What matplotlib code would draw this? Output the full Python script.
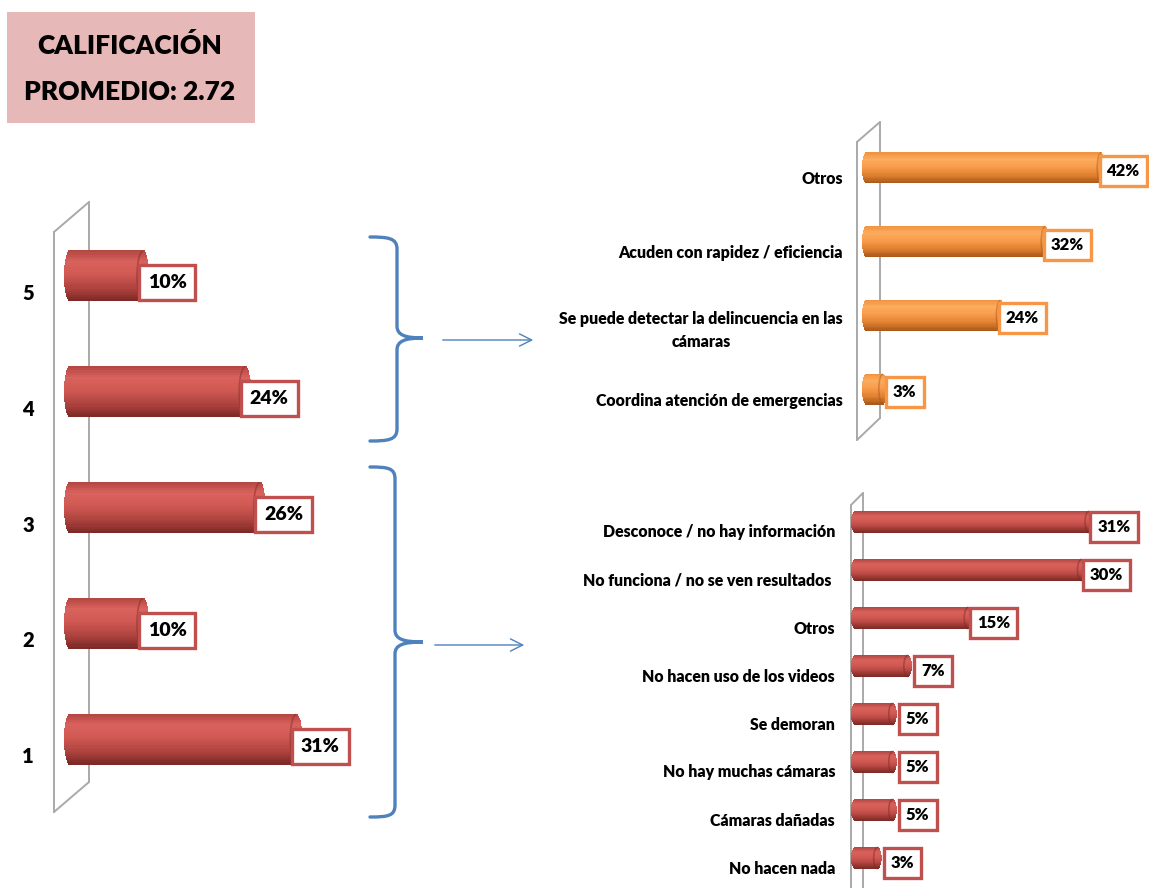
import numpy as np
import matplotlib
matplotlib.use("Agg")
import matplotlib.pyplot as plt
from matplotlib.colors import LinearSegmentedColormap
from matplotlib.patches import Rectangle, Arc, FancyArrowPatch, PathPatch
from matplotlib.path import Path
from matplotlib.transforms import ScaledTranslation

plt.rcParams['font.family'] = ['Lato', 'DejaVu Sans']
WEIGHT = 'heavy'

# ---------------- data ----------------
title_lines = ["CALIFICACIÓN", "PROMEDIO: 2.72"]

left_categories = ["5", "4", "3", "2", "1"]
left_values = [10, 24, 26, 10, 31]

top_categories = ["Otros", "Acuden con rapidez / eficiencia",
                  "Se puede detectar la delincuencia en las\ncámaras",
                  "Coordina atención de emergencias"]
top_values = [42, 32, 24, 3]

bottom_categories = ["Desconoce / no hay información", "No funciona / no se ven resultados ",
                     "Otros", "No hacen uso de los videos", "Se demoran",
                     "No hay muchas cámaras", "Cámaras dañadas", "No hacen nada"]
bottom_values = [31, 30, 15, 7, 5, 5, 5, 3]

# ---------------- layout helpers ----------------
W, H = 1149, 888
fig = plt.figure(figsize=(W / 100, H / 100), dpi=100)
fig.patch.set_facecolor('white')


def rect(x0, y0, x1, y1):
    return [x0 / W, 1 - y1 / H, (x1 - x0) / W, (y1 - y0) / H]


red_cmap = LinearSegmentedColormap.from_list(
    "red3d", [(0, "#B14541"), (0.22, "#DA625D"), (0.45, "#D25A55"),
              (0.75, "#AE423E"), (1, "#7A2825")])
orange_cmap = LinearSegmentedColormap.from_list(
    "org3d", [(0, "#F0923E"), (0.22, "#FCAC5E"), (0.45, "#F99D4D"),
              (0.75, "#DE7F2E"), (1, "#A8571A")])

# background overlay axes (pixel coordinates) for decorations
bg = fig.add_axes([0, 0, 1, 1])
bg.set_xlim(0, W)
bg.set_ylim(H, 0)
bg.axis('off')

# title box
bg.add_patch(Rectangle((7, 12), 248, 111, facecolor="#E6B8B7", edgecolor="none"))
bg.text(130, 46, title_lines[0], ha='center', va='center', fontsize=19,
        fontweight=WEIGHT, color='black')
bg.text(130, 92, title_lines[1], ha='center', va='center', fontsize=19,
        fontweight=WEIGHT, color='black')

wall_kw = dict(color="#A9A9A9", lw=1.4, solid_capstyle='round')


def wall(xf, xb, top_f, top_b, bot_f, bot_b):
    bg.plot([xf, xf], [top_f, bot_f], **wall_kw)
    bg.plot([xb, xb], [top_b, bot_b], **wall_kw)
    bg.plot([xf, xb], [top_f, top_b], **wall_kw)
    bg.plot([xb, xf], [bot_b, bot_f], **wall_kw)


wall(54, 89, 232, 202, 812, 782)
wall(857, 880, 142, 122, 440, 418)
wall(851, 863, 505, 493, 900, 888)

# braces
brace_col = "#4F81BD"


def brace(x_end, x_line, x_tip, y_top, y_mid, y_bot):
    verts = [(x_end, y_top),
             (x_end + 18, y_top), (x_line, y_top + 1), (x_line, y_top + 12),
             (x_line, y_mid - 12),
             (x_line, y_mid - 3), (x_line + 8, y_mid), (x_tip, y_mid),
             (x_line + 8, y_mid), (x_line, y_mid + 3), (x_line, y_mid + 12),
             (x_line, y_bot - 12),
             (x_line, y_bot - 1), (x_end + 18, y_bot), (x_end, y_bot)]
    codes = [Path.MOVETO,
             Path.CURVE4, Path.CURVE4, Path.CURVE4,
             Path.LINETO,
             Path.CURVE4, Path.CURVE4, Path.CURVE4,
             Path.CURVE4, Path.CURVE4, Path.CURVE4,
             Path.LINETO,
             Path.CURVE4, Path.CURVE4, Path.CURVE4]
    bg.add_patch(PathPatch(Path(verts, codes), facecolor='none',
                           edgecolor=brace_col, lw=2.4, capstyle='round',
                           joinstyle='miter'))


brace(370, 397, 423, 237, 338, 441)
brace(370, 395, 423, 467, 642, 817)

for (x0, x1, y) in [(440, 536, 340), (432, 527, 645)]:
    bg.add_patch(FancyArrowPatch((x0, y), (x1, y), arrowstyle='->',
                                 mutation_scale=22, color=brace_col, lw=1.0))


# ---------------- bar charts ----------------
def bar_chart(ax, cats, vals, cmap, edge_col, bar_h, cap_px, px_per_unit,
              fs_val, fs_cat, val_dx_px, val_dy_px, cat_dy_px, cat_pad_px,
              box_pad):
    n = len(cats)
    ypos = np.arange(n)[::-1]
    a = cap_px / px_per_unit
    nsl = 24
    for y, v in zip(ypos, vals):
        for k in range(nsl):
            t = (k + 0.5) / nsl
            s = np.sqrt(max(0.0, 1 - (2 * t - 1) ** 2))
            yc = y + bar_h / 2 - t * bar_h
            ax.barh(yc, v + 2 * a * s, left=-a * s, height=bar_h / nsl * 1.05,
                    color=cmap(t), edgecolor='none', zorder=2, clip_on=False)
        ax.add_patch(Arc((v, y), 2 * a, bar_h * 0.97, theta1=90, theta2=270,
                         color=cmap(1.0), lw=1.2, alpha=0.45, zorder=3,
                         clip_on=False))
        ax.annotate(f"{v}%", xy=(v, y), xytext=(val_dx_px * 0.72, -val_dy_px * 0.72),
                    textcoords='offset points', ha='center', va='center',
                    fontsize=fs_val, fontweight=WEIGHT, color='black', zorder=5,
                    annotation_clip=False,
                    bbox=dict(boxstyle=f'square,pad={box_pad}', facecolor='white',
                              edgecolor=edge_col, lw=2.4))
    ax.set_yticks(ypos)
    ax.set_yticklabels(cats, fontsize=fs_cat, fontweight=WEIGHT, color='black',
                       multialignment='center', linespacing=1.55)
    ax.tick_params(axis='y', length=0, pad=cat_pad_px * 0.72)
    for lab in ax.get_yticklabels():
        lab.set_transform(lab.get_transform() +
                          ScaledTranslation(0, -cat_dy_px / 100, fig.dpi_scale_trans))
    ax.set_xticks([])
    ax.set_ylim(-0.5, n - 0.5)
    for sp in ax.spines.values():
        sp.set_visible(False)
    ax.patch.set_alpha(0)


# left chart: zero at px 70, 7.3 px per %
axL = fig.add_axes(rect(70, 218, 70 + 7.3 * 45, 797))
axL.set_xlim(0, 45)
bar_chart(axL, left_categories, left_values, red_cmap, "#C0504D", 0.44, 6, 7.3,
          14, 14.5, 24, 7, 16, 36, 0.46)

# top right: zero at px 866, 5.6 px per %
axT = fig.add_axes(rect(866, 131, 866 + 5.6 * 50, 426))
axT.set_xlim(0, 50)
bar_chart(axT, top_categories, top_values, orange_cmap, "#F79646", 0.42, 4, 5.6,
          12, 11.4, 22, 3, 10, 23, 0.42)

# bottom right: zero at px 855, 7.55 px per %
axB = fig.add_axes(rect(855, 498, 855 + 7.55 * 38, 882))
axB.set_xlim(0, 38)
bar_chart(axB, bottom_categories, bottom_values, red_cmap, "#C0504D", 0.46, 4, 7.55,
          12, 11.4, 25, 5, 9, 20, 0.42)

fig.savefig("out.png", dpi=100, facecolor='white')
